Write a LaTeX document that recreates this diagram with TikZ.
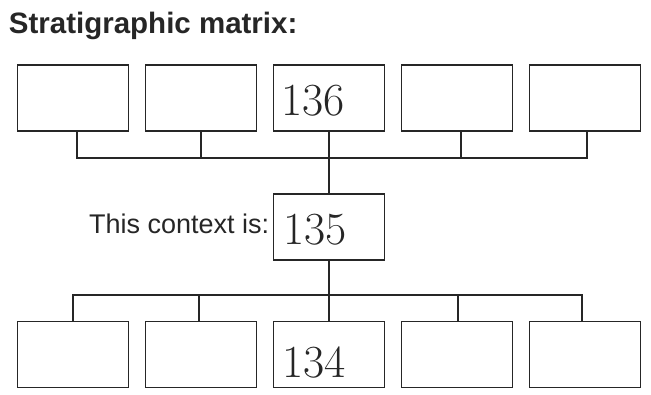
\documentclass[tikz,border=0pt]{standalone}
\usepackage{fontspec}
\newfontfamily\labelfont{Liberation Sans}
\newfontfamily\handfont{Latin Modern Roman}
\usepackage{tikz}
\usetikzlibrary{positioning}

\begin{document}
\begin{tikzpicture}[
    x=1pt, y=-1pt,
    line width=1.8pt,
    every node/.style={text=black!85},
    ctxbox/.style={rectangle, draw=black!85, minimum width=111pt, minimum height=66pt, inner sep=0pt, outer sep=0pt, node distance=17pt},
    handnum/.style={font=\handfont\fontsize{46}{46}\selectfont},
    link/.style={draw=black!85, line width=1.8pt}
]
\useasboundingbox (0,0) rectangle (651,394);

% heading
\node[anchor=base west, font=\labelfont\bfseries\fontsize{29.5}{30}\selectfont, inner sep=0pt] (title) at (8,33) {Stratigraphic matrix:};

% upper row
\node[ctxbox] (t3) at (329,98) {};
\node[ctxbox, left=of t3] (t2) {};
\node[ctxbox, left=of t2] (t1) {};
\node[ctxbox, right=of t3] (t4) {};
\node[ctxbox, right=of t4] (t5) {};

% this context
\node[ctxbox] (mid) at (329,227) {};
\node[anchor=base east, font=\labelfont\fontsize{27}{28}\selectfont, inner sep=0pt] (this) at (270,233) {This context is:};

% lower row
\node[ctxbox] (b3) at (329,354.5) {};
\node[ctxbox, left=of b3] (b2) {};
\node[ctxbox, left=of b2] (b1) {};
\node[ctxbox, right=of b3] (b4) {};
\node[ctxbox, right=of b4] (b5) {};

% handwritten numbers
\node[handnum] (n136) at (313,101) {136};
\node[handnum] (n135) at (315,230) {135};
\node[handnum] (n134) at (314,362) {134};

% connectors above
\coordinate (topbus) at (0,158);
\draw[link] ([xshift=4pt]t1.south) |- ([xshift=2pt]topbus -| t5.south) -- ([xshift=2pt]t5.south);
\draw[link] (t2.south) -- (t2.south |- topbus);
\draw[link] ([xshift=4pt]t4.south) -- ([xshift=4pt]t4.south |- topbus);
\draw[link] (t3.south) -- (mid.north);

% connectors below
\coordinate (lowbus) at (0,295);
\draw[link] (mid.south) -- (b3.north);
\draw[link] (b1.north) |- ([xshift=-3pt]lowbus -| b5.north) -- ([xshift=-3pt]b5.north);
\draw[link] ([xshift=-2pt]b2.north) -- ([xshift=-2pt]b2.north |- lowbus);
\draw[link] ([xshift=1pt]b4.north) -- ([xshift=1pt]b4.north |- lowbus);
\end{tikzpicture}
\end{document}
